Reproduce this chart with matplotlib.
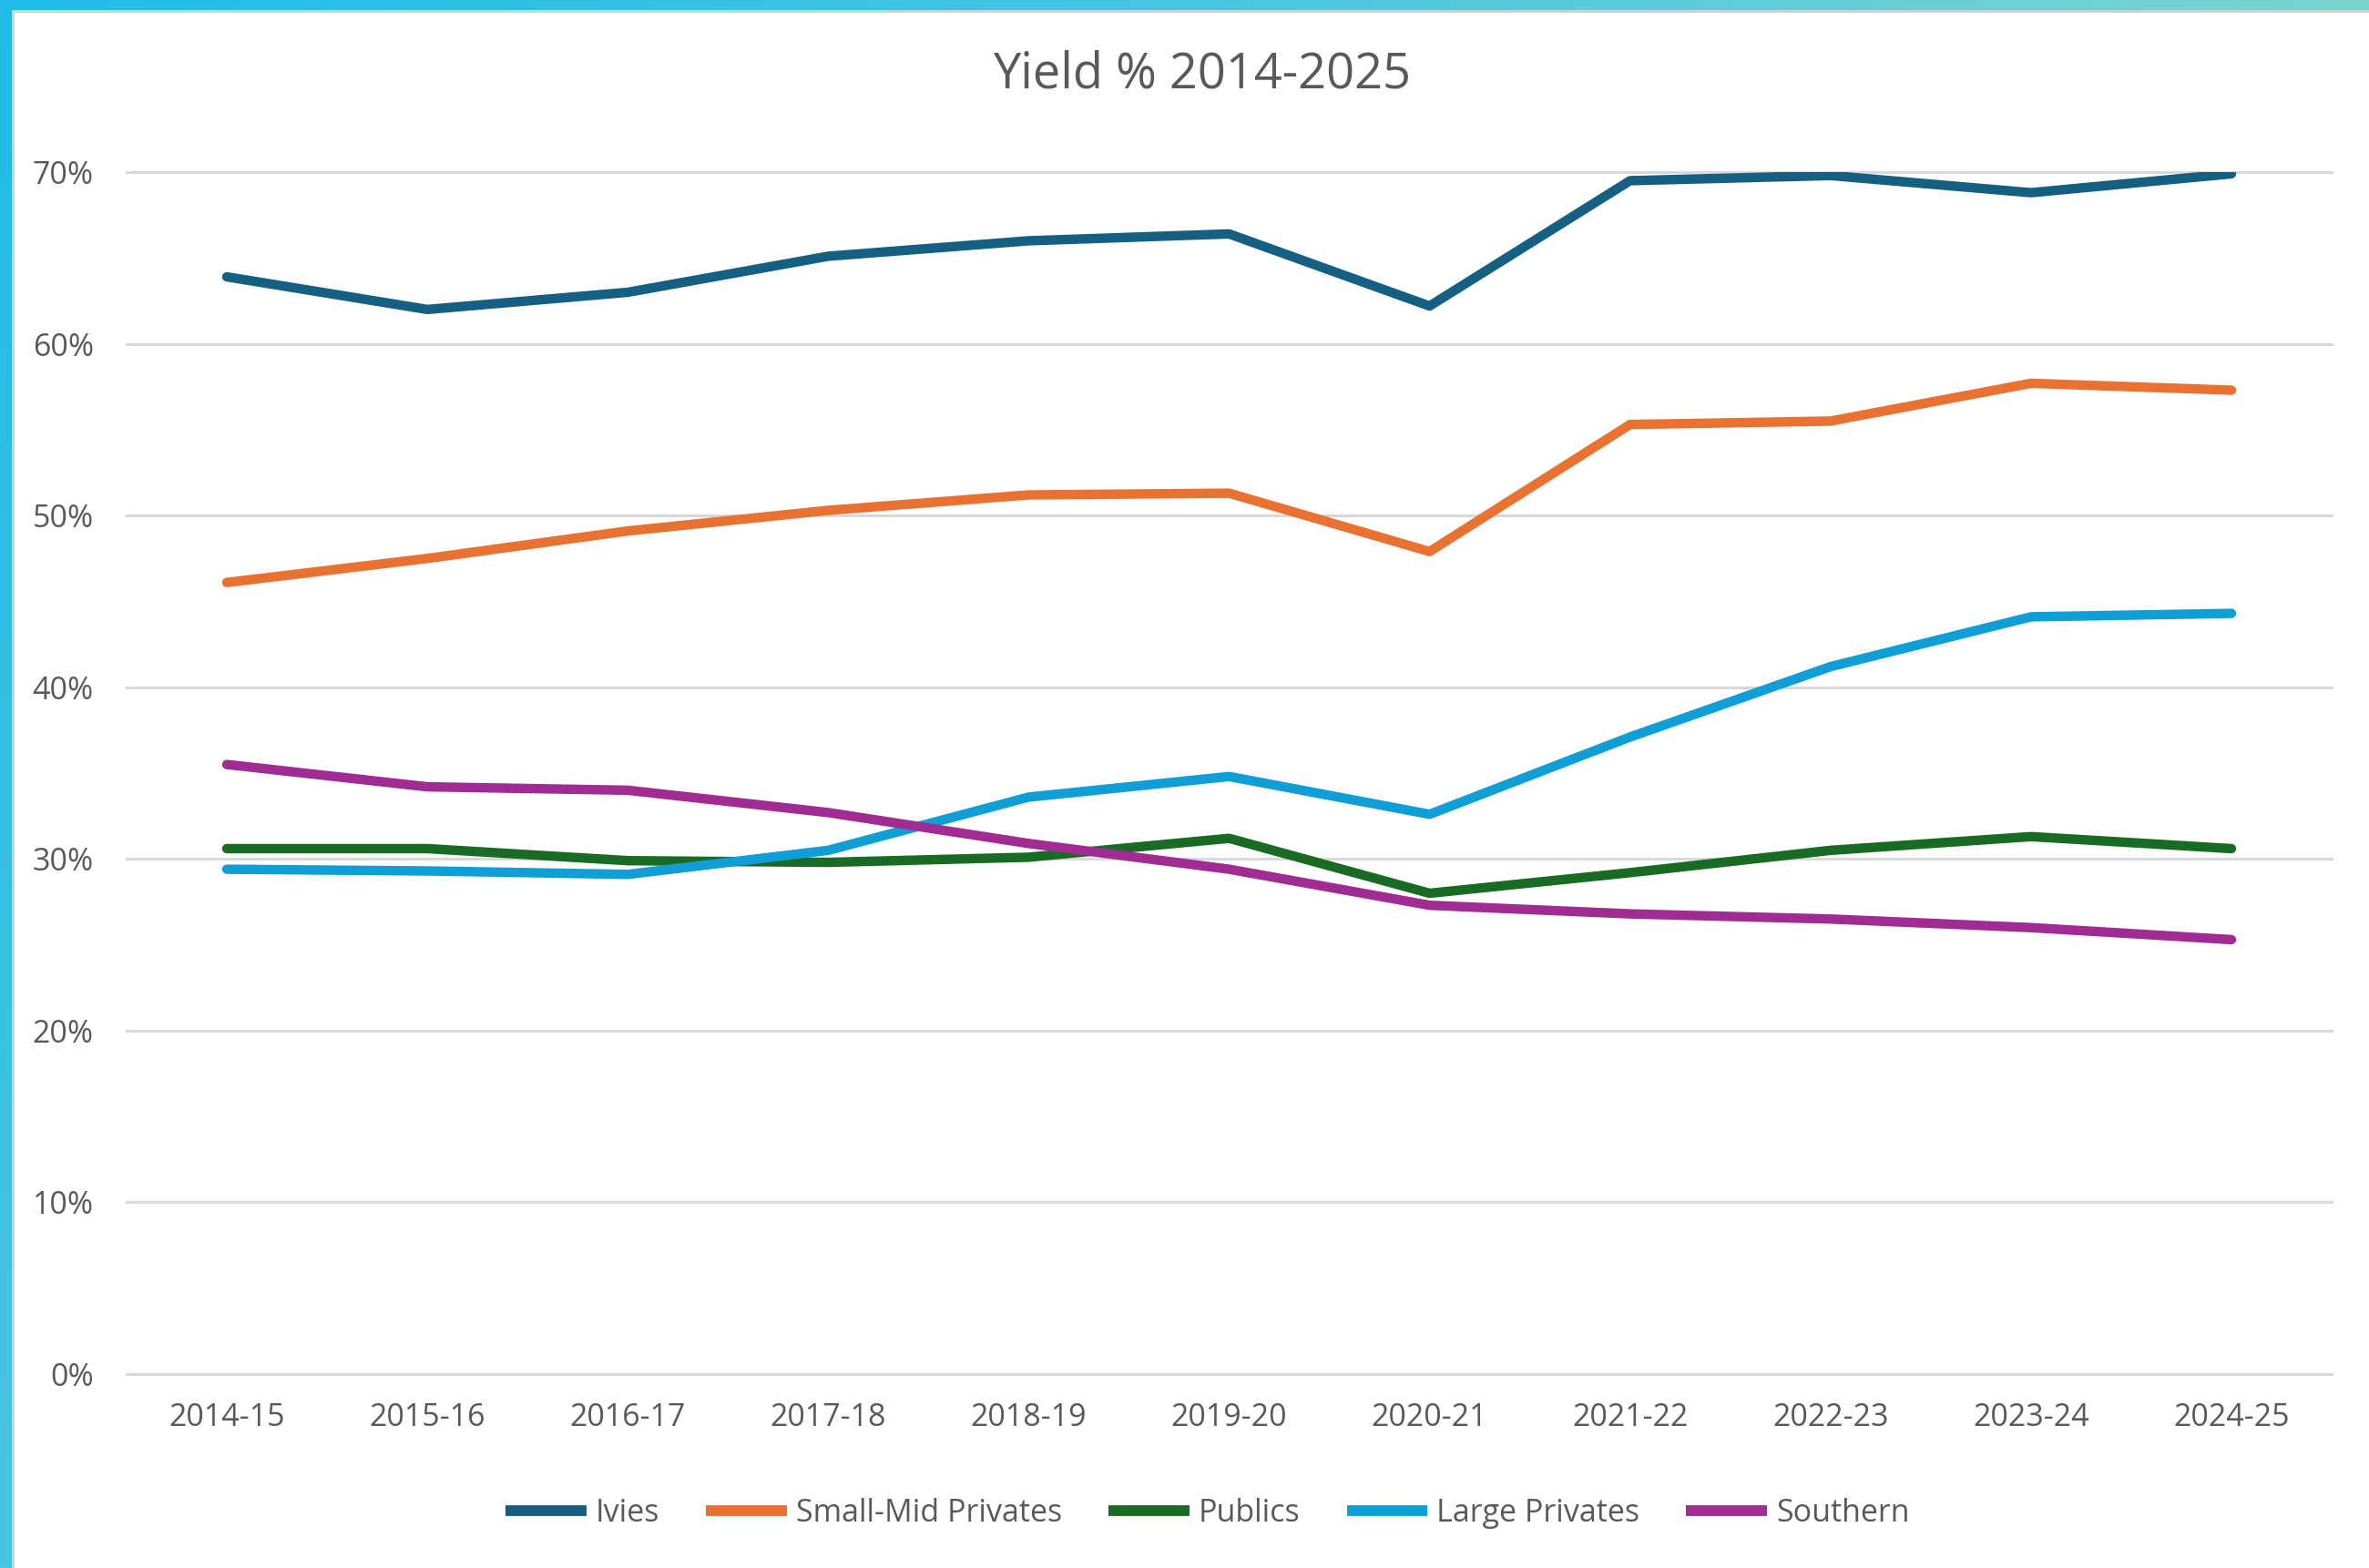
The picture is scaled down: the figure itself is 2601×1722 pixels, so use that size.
import matplotlib
matplotlib.use("Agg")
import matplotlib.pyplot as plt
import numpy as np
from matplotlib.colors import LinearSegmentedColormap
from matplotlib.ticker import PercentFormatter

categories = ["2014-15", "2015-16", "2016-17", "2017-18", "2018-19", "2019-20",
              "2020-21", "2021-22", "2022-23", "2023-24", "2024-25"]
ivies = [63.9, 62.0, 63.0, 65.1, 66.0, 66.4, 62.2, 69.5, 69.8, 68.8, 69.9]
small_mid = [46.1, 47.5, 49.1, 50.3, 51.2, 51.3, 47.9, 55.3, 55.5, 57.7, 57.3]
publics = [30.6, 30.6, 29.9, 29.8, 30.1, 31.2, 28.0, 29.2, 30.5, 31.3, 30.6]
large_priv = [29.4, 29.3, 29.1, 30.5, 33.6, 34.8, 32.6, 37.1, 41.2, 44.1, 44.3]
southern = [35.5, 34.2, 34.0, 32.7, 30.9, 29.4, 27.3, 26.8, 26.5, 26.0, 25.3]

series = [
    ("Ivies", ivies, "#156082"),
    ("Small-Mid Privates", small_mid, "#E97132"),
    ("Publics", publics, "#196B24"),
    ("Large Privates", large_priv, "#0F9ED5"),
    ("Southern", southern, "#A02B93"),
]

plt.rcParams['font.family'] = ['Open Sans', 'DejaVu Sans']
W, H = 2601, 1722
fig = plt.figure(figsize=(W / 100, H / 100), dpi=100)

# background frame with cyan border
bg = fig.add_axes([0, 0, 1, 1], zorder=-10)
bg.set_xlim(0, W)
bg.set_ylim(H, 0)
bg.axis("off")
cmap_top = LinearSegmentedColormap.from_list("t", ["#20BCE8", "#48C7E0", "#7CD4CE"])
grad = np.linspace(0, 1, 256).reshape(1, -1)
bg.imshow(grad, cmap=cmap_top, extent=[0, W, 11, 0], aspect="auto")
cmap_left = LinearSegmentedColormap.from_list("l", ["#20BCE8", "#4AC5DF"])
bg.imshow(np.linspace(0, 1, 256).reshape(-1, 1), cmap=cmap_left,
          extent=[0, 13, H, 0], aspect="auto")
bg.add_patch(plt.Rectangle((13, 11), 3, H, color="#D0D0D0", lw=0))
bg.add_patch(plt.Rectangle((13, 11), W, 3, color="#D0D0D0", lw=0))

left, right = 139 / W, 2560 / W
bottom, top = 1 - 1509 / H, 1 - 189 / H
ax = fig.add_axes([left, bottom, right - left, top - bottom])

x = np.arange(len(categories))
for name, vals, col in series:
    ax.plot(x, np.array(vals) / 100, color=col, lw=7.5, label=name,
            solid_capstyle="round", solid_joinstyle="round", zorder=3)

ax.set_xlim(-0.5, len(categories) - 0.5)
ax.set_ylim(0, 0.7)
ax.set_yticks(np.arange(0, 0.71, 0.1))
ax.yaxis.set_major_formatter(PercentFormatter(1.0, decimals=0))
ax.set_xticks(x)
ax.set_xticklabels(categories)
ax.grid(axis="y", color="#D9D9D9", lw=2.2, zorder=0)
for gl in ax.get_ygridlines():
    gl.set_clip_on(False)
for s in ax.spines.values():
    s.set_visible(False)
ax.tick_params(axis="both", length=0, labelsize=24.5, colors="#595959")
ax.tick_params(axis="y", pad=26)
ax.tick_params(axis="x", pad=22)

fig.text(1320 / W, 1 - 82 / H, "Yield % 2014-2025", ha="center", va="center",
         fontsize=39, color="#595959")

leg = fig.legend(loc="center", bbox_to_anchor=(1326 / W, 1 - 1662 / H), ncol=5,
                 frameon=False, fontsize=24.5, handlelength=2.6, handletextpad=0.3,
                 columnspacing=1.5, labelcolor="#595959")
for lh in leg.get_lines():
    lh.set_linewidth(8.5)
    lh.set_solid_capstyle("butt")

fig.savefig("out.png", dpi=100)
